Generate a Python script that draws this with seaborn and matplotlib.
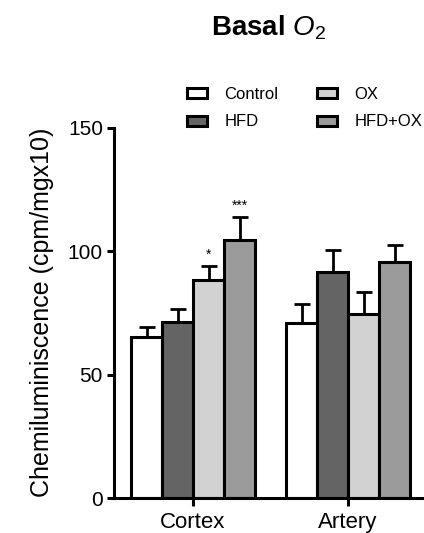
import pandas as pd
import numpy as np
import matplotlib
matplotlib.use('Agg')
import matplotlib.pyplot as plt
import matplotlib.patches as mpatches
import seaborn as sns

# values
tissues = ['Cortex', 'Artery']
groups = ['Control', 'HFD', 'OX', 'HFD+OX']
cortex_mean = [65.3, 71.1, 88.3, 104.5]
cortex_sem = [3.8, 5.4, 5.5, 9.3]
artery_mean = [70.7, 91.6, 74.4, 95.4]
artery_sem = [8.0, 8.8, 9.0, 7.0]
cortex_stars = ['', '', '*', '***']
artery_stars = ['', '', '', '']
bar_colors = ['#ffffff', '#646464', '#d2d2d2', '#9b9b9b']

sns.set_theme(style='ticks')
plt.rcParams['font.family'] = ['Liberation Sans', 'DejaVu Sans']
plt.rcParams['mathtext.fontset'] = 'custom'
plt.rcParams['mathtext.rm'] = 'Liberation Sans'
plt.rcParams['mathtext.it'] = 'Liberation Sans:italic'
plt.rcParams['mathtext.bf'] = 'Liberation Sans:bold'
for k in ['text.color', 'axes.labelcolor', 'xtick.color', 'ytick.color']:
    plt.rcParams[k] = 'black'

df = pd.DataFrame({
    'tissue': np.repeat(tissues, len(groups)),
    'group': groups * len(tissues),
    'mean': cortex_mean + artery_mean,
    'sem': cortex_sem + artery_sem,
    'star': cortex_stars + artery_stars,
})

fig = plt.figure(figsize=(4.24, 5.33), dpi=100)
ax = fig.add_axes([114 / 424, 1 - 498 / 533, 310 / 424, 370.5 / 533])

sns.barplot(data=df, x='tissue', y='mean', hue='group', hue_order=groups,
            order=tissues, palette=bar_colors, edgecolor='black',
            linewidth=2.2, errorbar=None, legend=False, saturation=1, ax=ax)

# upper-only error bars and significance marks
for cont, grp in zip(ax.containers, groups):
    sub = df[df['group'] == grp].set_index('tissue').loc[tissues]
    xs = [b.get_x() + b.get_width() / 2 for b in cont]
    ys = sub['mean'].values
    err = sub['sem'].values
    ax.errorbar(xs, ys, yerr=[np.zeros_like(err), err], fmt='none',
                ecolor='black', elinewidth=2.0, capsize=5.8, capthick=2.0,
                zorder=1)
    for x, y, e, s in zip(xs, ys, err, sub['star'].values):
        if s:
            ax.text(x, y + e + 1.8, s, ha='center', va='bottom', fontsize=10)

ax.set_ylim(0, 150)
ax.set_yticks([0, 50, 100, 150])
ax.set_xlim(-0.51, 1.49)
ax.set_xlabel('')
ax.set_ylabel('Chemiluminiscence (cpm/mgx10)', fontsize=18, labelpad=10)
sns.despine(ax=ax)
for side in ['left', 'bottom']:
    ax.spines[side].set_linewidth(2.2)
    ax.spines[side].set_color('black')
ax.tick_params(axis='y', length=5, width=2.2, labelsize=15, pad=3)
ax.tick_params(axis='x', length=6, width=2.2, labelsize=16, pad=4)

handles = [mpatches.Patch(facecolor=c, edgecolor='black', linewidth=2.2, label=g)
           for c, g in zip(bar_colors, groups)]
fig.legend(handles=handles, ncol=2, loc='upper left',
           bbox_to_anchor=(187 / 424, 1 - 87 / 533), frameon=False,
           fontsize=12, borderpad=0, borderaxespad=0, handlelength=1.2,
           handleheight=0.55, handletextpad=1.05, columnspacing=2.3,
           labelspacing=0.75)

fig.text(269 / 424, 1 - 35 / 533, r'$\mathbf{Basal}\ O_2$', ha='center',
         va='baseline', fontsize=20)

plt.savefig('out.png', dpi=100)
